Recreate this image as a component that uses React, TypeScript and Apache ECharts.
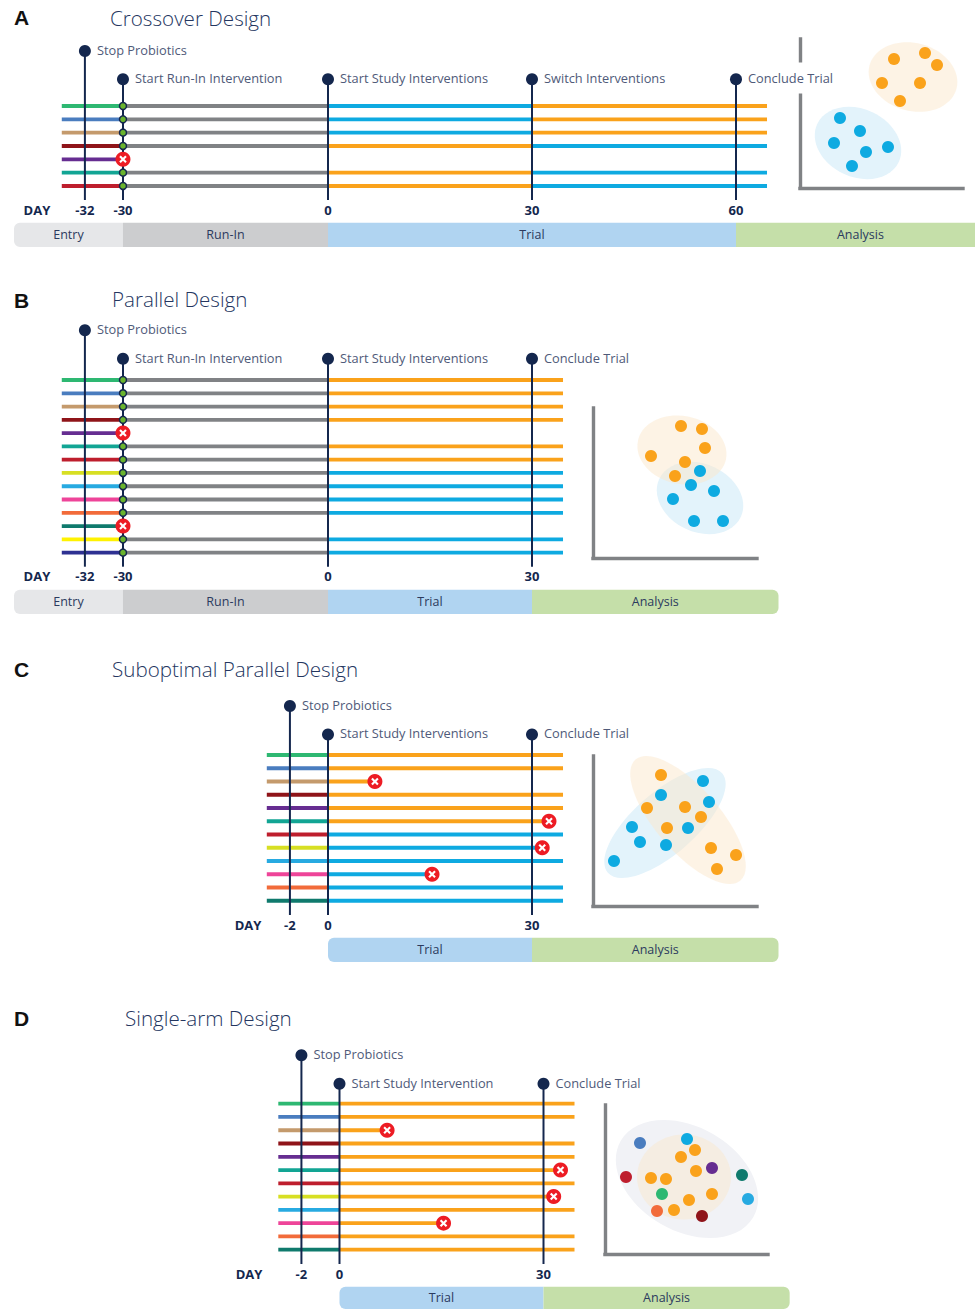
import React, { useEffect, useRef } from "react";
import * as echarts from "echarts";

const FONT = '"Open Sans", "Noto Sans", sans-serif';
const NAVY = "#14274e";
const LABEL = "#4f5a79";
const GREY = "#808285";
const ORANGE = "#faa21b";
const BLUE = "#0eaae1";
const HULL_O = "rgba(251,231,203,0.5)";
const HULL_B = "#e3f3fb";
const PX_PER_DAY = 6.8;

// participant colours, top row first
const entryColors = ["#2eb872", "#4a7dbf", "#c49a6c", "#8f1419", "#662d91", "#12a594", "#be1e2d", "#d7df23", "#27aae1", "#ee4499", "#f26b3a", "#0f7a6d", "#fff200", "#2e3192"];
const entryColorsA = entryColors.slice(0, 7);
const entryColorsCD = entryColors.slice(0, 12);

// treatment arm per participant: O = orange, B = blue, null = left in run-in
const armsA = ["B", "B", "B", "O", null, "O", "O"];
const armsB = ["O", "O", "O", "O", null, "O", "O", "B", "B", "B", "B", null, "B", "B"];
const armsC = ["O", "O", "O", "O", "O", "O", "B", "B", "B", "B", "B", "B"];
const armsD = ["O", "O", "O", "O", "O", "O", "O", "O", "O", "O", "O", "O"];

// withdrawals: participant row, study day
const dropoutsA = [[4, -30]];
const dropoutsB = [[4, -30], [11, -30]];
const dropoutsC = [[2, 6.9], [5, 32.5], [7, 31.5], [9, 15.3]];
const dropoutsD = [[2, 7], [5, 32.5], [7, 31.5], [9, 15.3]];

// timeline milestones
const milestonesA = [[-32, "Stop Probiotics"], [-30, "Start Run-In Intervention"], [0, "Start Study Interventions"], [30, "Switch Interventions"], [60, "Conclude Trial"]];
const milestonesB = [[-32, "Stop Probiotics"], [-30, "Start Run-In Intervention"], [0, "Start Study Interventions"], [30, "Conclude Trial"]];
const milestonesC = [[-2, "Stop Probiotics"], [0, "Start Study Interventions"], [30, "Conclude Trial"]];
const milestonesD = [[-2, "Stop Probiotics"], [0, "Start Study Intervention"], [30, "Conclude Trial"]];

// phase bars: name, first day, last day
const phasesA = [["Entry", -46.18, -30.15], ["Run-In", -30.15, 0], ["Trial", 0, 60], ["Analysis", 60, 96.6]];
const phasesB = [["Entry", -46.18, -30.15], ["Run-In", -30.15, 0], ["Trial", 0, 30], ["Analysis", 30, 66.25]];
const phasesC = [["Trial", 0, 30], ["Analysis", 30, 66.25]];
const phasesD = [["Trial", 0, 30], ["Analysis", 30, 66.2]];
const phaseColors = { Entry: "#e6e7e9", "Run-In": "#cccdcf", Trial: "#b0d4f1", Analysis: "#c5dfa9" };

// outcome scatter clusters
const orangeA = [[94, 129], [125, 135], [137, 123], [82, 105], [120, 105], [100, 87]];
const blueA = [[40, 70], [60, 57], [34, 45], [66, 36], [88, 41], [52, 22]];
const orangeB = [[88, 132], [109, 129], [112, 110], [58, 102], [92, 96], [82, 82]];
const blueB = [[107, 87], [98, 73], [121, 67], [80, 59], [101, 37], [130, 37]];
const orangeC = [[68, 131], [54, 98], [92, 99], [108, 89], [74, 78], [118, 58], [143, 51], [124, 37]];
const blueC = [[110, 125], [68, 111], [116, 104], [39, 79], [95, 78], [47, 64], [73, 61], [21, 45]];
const orangeD = [[90, 104], [76, 97], [91, 83], [46, 76], [61, 75], [107, 60], [84, 54], [69, 44]];
const othersD = [[35, 111, 1], [82, 115, 14], [107, 86, 4], [21, 77, 6], [137, 79, 11], [57, 60, 0], [143, 55, 8], [52, 43, 10], [97, 38, 3]];

// cluster outlines: centre x, centre y, radius a, radius b, tilt (deg), colour
const hullsA = [[58, 45, 45, 34, -25, HULL_B], [113, 111, 45, 34, -15, HULL_O]];
const hullsB = [[107, 60, 45, 34, -25, HULL_B], [89, 108, 45, 34, -12, HULL_O]];
const hullsC = [[72, 83, 75.7, 31, 41, HULL_B], [95, 86, 80, 32, -49, HULL_O]];
const hullsD = [[82, 75, 76.5, 52, -30, "#f1f2f6"], [79, 77, 47, 42.5, 0, "#f5ede2"]];

const panels = [
  { letter: "A", title: "Crossover Design", titleX: 110, titleY: 19, letterY: 18, zero: 328, anchor: -30.15, firstRow: 106, rowGap: 13.33, stopY: 51, startY: 79.3, bottomY: 200, end: 64.56, dayPos: -42.8, colors: entryColorsA, arms: armsA, crossover: true, dropouts: dropoutsA, milestones: milestonesA, phases: phasesA, barY: 222.7, plot: [800, 188, 163, 149], orange: orangeA, blue: blueA, others: [], hulls: hullsA },
  { letter: "B", title: "Parallel Design", titleX: 112, titleY: 300, letterY: 301, zero: 328, anchor: -30.15, firstRow: 380, rowGap: 13.28, stopY: 330.3, startY: 358.7, bottomY: 566.7, end: 34.56, dayPos: -42.8, colors: entryColors, arms: armsB, crossover: false, dropouts: dropoutsB, milestones: milestonesB, phases: phasesB, barY: 589.7, plot: [593, 558, 164, 150], orange: orangeB, blue: blueB, others: [], hulls: hullsB },
  { letter: "C", title: "Suboptimal Parallel Design", titleX: 112, titleY: 670, letterY: 670, zero: 328, anchor: 0, firstRow: 755, rowGap: 13.25, stopY: 706, startY: 734.5, bottomY: 915, end: 34.56, dayPos: -11.76, colors: entryColorsCD, arms: armsC, crossover: false, dropouts: dropoutsC, milestones: milestonesC, phases: phasesC, barY: 937.8, plot: [593, 906, 164, 150], orange: orangeC, blue: blueC, others: [], hulls: hullsC },
  { letter: "D", title: "Single-arm Design", titleX: 125, titleY: 1019, letterY: 1019, zero: 339.5, anchor: 0, firstRow: 1103.7, rowGap: 13.27, stopY: 1055.3, startY: 1083.7, bottomY: 1264, end: 34.56, dayPos: -13.3, colors: entryColorsCD, arms: armsD, crossover: false, dropouts: dropoutsD, milestones: milestonesD, phases: phasesD, barY: 1286.7, plot: [605, 1254, 163, 149], orange: orangeD, blue: [], others: othersD, hulls: hullsD },
];

const armColor = (a: string) => (a === "O" ? ORANGE : BLUE);
const otherArm = (a: string) => (a === "O" ? "B" : "O");

// the run-in milestone sits on the anchor of the schematic scale
const plotDay = (p: any, day: number) => (day === -30 ? p.anchor : day);

function segmentsOf(p: any) {
  const out: any[] = [];
  const schemStart = p.anchor - 9;
  const dropAt = new Map(p.dropouts.map((d: number[]) => [d[0], plotDay(p, d[1])]));
  p.colors.forEach((color: string, row: number) => {
    const stop: any = dropAt.has(row) ? dropAt.get(row) : Infinity;
    const arm = p.arms[row];
    const push = (a: number, b: number, c: string) => {
      const e = Math.min(b, stop);
      if (e > a) out.push({ value: [a, e, row], color: c });
    };
    push(schemStart, p.anchor, color);
    if (p.anchor < 0) push(p.anchor, 0, GREY);
    if (!arm) return;
    if (p.crossover) {
      push(0, 30, armColor(arm));
      push(30, p.end, armColor(otherArm(arm)));
    } else push(0, p.end, armColor(arm));
  });
  return out;
}

function buildOption() {
  const grid: any[] = [], xAxis: any[] = [], yAxis: any[] = [], series: any[] = [], title: any[] = [];
  panels.forEach((p) => {
    title.push(
      { text: p.letter, left: 14, top: p.letterY - 13, padding: 0, textStyle: { fontFamily: '"Liberation Sans", Arial, sans-serif', fontWeight: "bold", fontSize: 21, color: "#111", lineHeight: 24 } },
      { text: p.title, left: p.titleX, top: p.titleY - 15, padding: 0, textStyle: { fontFamily: FONT, fontWeight: 300, fontSize: 20.6, color: "#24365f", lineHeight: 28 } },
    );
    const pos = (day: number) => (day < p.anchor ? p.anchor - 5.6 : plotDay(p, day));
    const xMin = -p.zero / PX_PER_DAY;
    const xMax = (975 - p.zero) / PX_PER_DAY;

    // timeline grid
    const ti = grid.length;
    grid.push({ left: 0, width: 975, top: p.stopY, height: p.bottomY - p.stopY });
    const tickItems: [number, string][] = [[p.dayPos, "DAY"], ...p.milestones.map((m: any) => [pos(m[0]), String(m[0])] as [number, string])];
    xAxis.push({
      gridIndex: ti, type: "value", min: xMin, max: xMax, splitLine: { show: false }, axisLine: { show: false }, axisTick: { show: false },
      axisLabel: {
        show: true, customValues: tickItems.map((t) => t[0]), margin: 3, fontFamily: FONT, fontWeight: 700, fontSize: 13, color: NAVY, hideOverlap: false,
        formatter: (v: number) => {
          let best = tickItems[0];
          tickItems.forEach((t) => { if (Math.abs(t[0] - v) < Math.abs(best[0] - v)) best = t; });
          return best[1];
        },
      },
    });
    const yMin = (p.stopY - p.firstRow) / p.rowGap;
    const yMax = (p.bottomY - p.firstRow) / p.rowGap;
    const startLevel = (p.startY - p.firstRow) / p.rowGap;
    yAxis.push({ gridIndex: ti, type: "value", inverse: true, min: yMin, max: yMax, show: false, splitLine: { show: false } });

    const segs = segmentsOf(p);
    series.push({
      type: "custom", xAxisIndex: ti, yAxisIndex: ti, z: 2, clip: false, data: segs,
      renderItem: (params: any, api: any) => {
        const a = api.coord([api.value(0), api.value(2)]);
        const b = api.coord([api.value(1), api.value(2)]);
        return { type: "line", shape: { x1: a[0], y1: a[1], x2: b[0], y2: b[1] }, style: { stroke: segs[params.dataIndex].color, lineWidth: 3.8, fill: null } };
      },
    });
    const msData = p.milestones.map((m: any, i: number) => ({
      value: [pos(m[0]), i === 0 ? yMin : startLevel],
      name: m[1],
      label: m[1] === "Conclude Trial" && p.crossover ? { backgroundColor: "#fff", padding: [9, 2, 9, 0] } : undefined,
    }));
    series.push({
      type: "custom", xAxisIndex: ti, yAxisIndex: ti, z: 3, clip: false, data: msData.map((m: any) => m.value),
      renderItem: (_: any, api: any) => {
        const a = api.coord([api.value(0), api.value(1)]);
        const b = api.coord([api.value(0), yMax]);
        return { type: "line", shape: { x1: a[0], y1: a[1], x2: b[0], y2: b[1] }, style: { stroke: NAVY, lineWidth: 2, fill: null } };
      },
    });
    series.push({
      type: "scatter", xAxisIndex: ti, yAxisIndex: ti, z: 8, symbolSize: 12, clip: false, data: msData,
      itemStyle: { color: NAVY, opacity: 1 },
      label: { show: true, position: "right", distance: 6, offset: [0, -1.2], formatter: "{b}", fontFamily: FONT, fontSize: 12.8, color: LABEL },
    });
    if (p.anchor < 0) {
      const dropped = new Set(p.dropouts.map((d: number[]) => d[0]));
      series.push({
        type: "scatter", xAxisIndex: ti, yAxisIndex: ti, z: 5, symbolSize: 7,
        data: p.colors.map((_: string, r: number) => r).filter((r: number) => !dropped.has(r)).map((r: number) => [p.anchor, r]),
        itemStyle: { color: "#6ab42d", borderColor: NAVY, borderWidth: 1.5, opacity: 1 },
      });
    }
    const dropPoints = p.dropouts.map((d: number[]) => [plotDay(p, d[1]), d[0]]);
    series.push(
      { type: "scatter", xAxisIndex: ti, yAxisIndex: ti, z: 6, symbolSize: 15, clip: false, data: dropPoints, itemStyle: { color: "#ed1c24", opacity: 1 } },
      { type: "scatter", xAxisIndex: ti, yAxisIndex: ti, z: 7, symbolSize: 7.5, clip: false, symbol: "path://M2 0L5 3L8 0L10 2L7 5L10 8L8 10L5 7L2 10L0 8L3 5L0 2Z", data: dropPoints, itemStyle: { color: "#fff", opacity: 1 } },
    );

    // phase bar grid, same day scale
    const bi = grid.length;
    grid.push({ left: 0, width: 975, top: p.barY, height: 24.2 });
    xAxis.push({ gridIndex: bi, type: "value", min: xMin, max: xMax, show: false, splitLine: { show: false } });
    yAxis.push({ gridIndex: bi, type: "value", min: 0, max: 1, show: false, splitLine: { show: false } });
    const n = p.phases.length;
    series.push({
      type: "custom", xAxisIndex: bi, yAxisIndex: bi, z: 2, clip: false,
      data: p.phases.map((ph: any) => [ph[1], ph[2]]),
      renderItem: (params: any, api: any) => {
        const i = params.dataIndex;
        const a = api.coord([api.value(0), 1]);
        const b = api.coord([api.value(1), 0]);
        const name = p.phases[i][0];
        const r = [i === 0 ? 6 : 0, i === n - 1 ? 6 : 0, i === n - 1 ? 6 : 0, i === 0 ? 6 : 0];
        return {
          type: "group",
          children: [
            { type: "rect", shape: { x: a[0], y: a[1], width: b[0] - a[0], height: b[1] - a[1], r }, style: { fill: (phaseColors as any)[name] } },
            { type: "text", style: { text: name, x: (a[0] + b[0]) / 2, y: (a[1] + b[1]) / 2 - 0.5, textAlign: "center", textVerticalAlign: "middle", font: `12.5px ${FONT}`, fill: "#2b3a5e" } },
          ],
        };
      },
    });

    // outcome scatter grid
    const [ox, oy, w, h] = p.plot;
    const si = grid.length;
    grid.push({ left: ox, top: oy - h, width: w, height: h });
    const axisLine = { show: true, onZero: false, lineStyle: { color: GREY, width: 3.4, cap: "square" } };
    xAxis.push({ gridIndex: si, type: "value", min: 0, max: w, axisLine, axisTick: { show: false }, axisLabel: { show: false }, splitLine: { show: false } });
    yAxis.push({ gridIndex: si, type: "value", min: 0, max: h, axisLine, axisTick: { show: false }, axisLabel: { show: false }, splitLine: { show: false } });
    series.push({
      type: "custom", xAxisIndex: si, yAxisIndex: si, z: 1, clip: false, data: p.hulls.map((e: any) => e.slice(0, 5)),
      renderItem: (params: any, api: any) => {
        const c = api.coord([api.value(0), api.value(1)]);
        const s = api.size([api.value(2), api.value(3)]);
        return {
          type: "ellipse", x: c[0], y: c[1], rotation: (api.value(4) * Math.PI) / 180,
          shape: { cx: 0, cy: 0, rx: s[0], ry: s[1] }, style: { fill: p.hulls[params.dataIndex][5] },
        };
      },
    });
    const dot = { type: "scatter", xAxisIndex: si, yAxisIndex: si, z: 2, symbolSize: 12 };
    if (p.orange.length) series.push({ ...dot, data: p.orange, itemStyle: { color: ORANGE, opacity: 1 } });
    if (p.blue.length) series.push({ ...dot, data: p.blue, itemStyle: { color: BLUE, opacity: 1 } });
    if (p.others.length)
      series.push({
        ...dot,
        data: p.others.map((o: number[]) => ({ value: [o[0], o[1]], itemStyle: { color: o[2] === 14 ? BLUE : entryColors[o[2]], opacity: 1 } })),
      });
  });
  return { animation: false, backgroundColor: "#fff", title, grid, xAxis, yAxis, series };
}

export default function App() {
  const ref = useRef<HTMLDivElement>(null);
  useEffect(() => {
    document.body.style.margin = "0";
    const chart = echarts.init(ref.current!, undefined, { renderer: "svg" });
    chart.setOption(buildOption() as any);
    return () => chart.dispose();
  }, []);
  return <div ref={ref} style={{ width: 975, height: 1309 }} />;
}
